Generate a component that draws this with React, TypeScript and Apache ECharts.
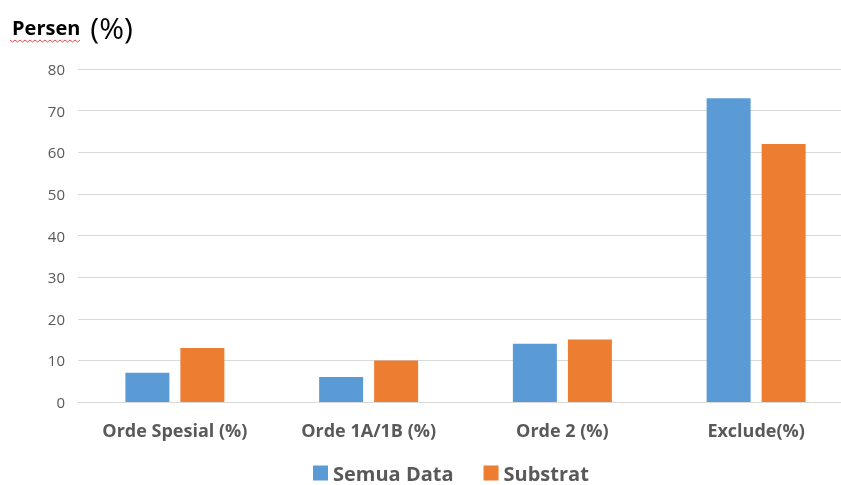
import React, { useEffect, useRef } from "react";
import * as echarts from "echarts";

const categories = ["Orde Spesial (%)", "Orde 1A/1B (%)", "Orde 2 (%)", "Exclude(%)"];
const semuaData = [7, 6, 14, 73];
const substrat = [13, 10, 15, 62];
const seriesNames = ["Semua Data", "Substrat"];

export default function App() {
  const ref = useRef<HTMLDivElement>(null);
  useEffect(() => {
    document.body.style.overflow = "hidden";
    const chart = echarts.init(ref.current!, null, { renderer: "svg" });
    const font = "'Open Sans', 'Noto Sans', sans-serif";
    const squiggle: number[][] = [];
    for (let i = 0; i <= 28; i++) {
      squiggle.push([10 + i * 2.5, i % 2 === 0 ? 40 : 42]);
    }
    chart.setOption({
      animation: false,
      title: {
        left: 7,
        top: 7,
        text: "{a|Persen}  {b|(%)}",
        textStyle: {
          rich: {
            a: { fontFamily: font, fontWeight: "bold", fontSize: 20, color: "#000" },
            b: { fontFamily: font, fontWeight: "normal", fontSize: 30, color: "#000" },
          },
        },
      },
      graphic: [
        {
          type: "polyline",
          shape: { points: squiggle },
          style: { stroke: "#e84a4a", lineWidth: 1, fill: null },
        },
      ],
      legend: {
        data: seriesNames,
        top: 463,
        left: 313,
        padding: 0,
        itemWidth: 15,
        itemHeight: 15,
        itemGap: 30,
        icon: "rect",
        textStyle: {
          fontFamily: font,
          fontSize: 20,
          lineHeight: 20,
          fontWeight: "bold",
          color: "#595959",
        },
      },
      grid: { left: 78, width: 775, top: 69, height: 333, containLabel: false },
      xAxis: {
        type: "category",
        data: categories,
        axisLine: { lineStyle: { color: "#D9D9D9" } },
        axisTick: { show: false },
        axisLabel: {
          fontFamily: font,
          fontSize: 18,
          fontWeight: "bold",
          color: "#595959",
          margin: 19,
        },
      },
      yAxis: {
        type: "value",
        min: 0,
        max: 80,
        interval: 10,
        axisLine: { show: false },
        axisTick: { show: false },
        splitLine: { lineStyle: { color: "#D9D9D9", width: 1 } },
        axisLabel: { fontFamily: font, fontSize: 15, color: "#595959", margin: 13 },
      },
      series: [
        {
          name: seriesNames[0],
          type: "bar",
          data: semuaData,
          barWidth: 44,
          barGap: "25%",
          itemStyle: { color: "#5B9BD5" },
        },
        {
          name: seriesNames[1],
          type: "bar",
          data: substrat,
          barWidth: 44,
          itemStyle: { color: "#ED7D31" },
        },
      ],
    });
    return () => chart.dispose();
  }, []);
  return (
    <div
      ref={ref}
      style={{ position: "fixed", left: 0, top: 0, width: 853, height: 485 }}
    />
  );
}
